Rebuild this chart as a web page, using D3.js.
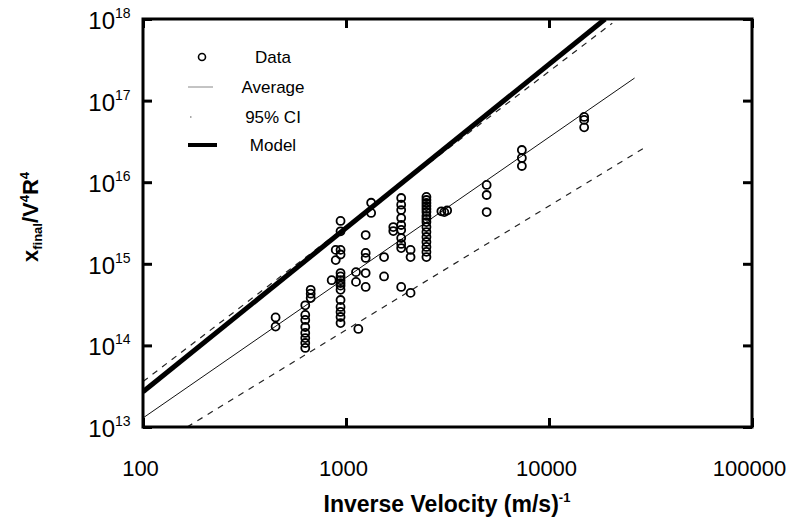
<!DOCTYPE html>
<html>
<head>
<meta charset="utf-8">
<script src="https://cdn.jsdelivr.net/npm/d3@7"></script>
<style>
  body { margin: 0; background: #fff; }
  svg { font-family: "Liberation Sans", Arial, sans-serif; }
</style>
</head>
<body>
<div id="grafico"></div>
<script>
// ejes
const xTicks = [100, 1000, 10000, 100000];
const yTicks = [1e13, 1e14, 1e15, 1e16, 1e17, 1e18];
const yExponents = ["13", "14", "15", "16", "17", "18"];

// puntos medidos [velocidad inversa, x_final/V^4R^4]
const dataPoints = [
    [450, 2.2e14], [450, 1.7e14],
    [630, 3.1e14], [630, 2.36e14], [630, 2.05e14], [630, 1.68e14], [630, 1.42e14], [630, 1.23e14], [630, 1.07e14], [630, 9.3e13],
    [670, 4.8e14], [670, 4.3e14], [670, 3.8e14],
    [850, 6.3e14],
    [890, 1.48e15], [890, 1.11e15],
    [940, 3.35e15], [940, 2.5e15], [940, 1.48e15], [940, 1.3e15], [940, 7.7e14], [940, 7.0e14], [940, 6.3e14], [940, 5.8e14],
    [940, 5.4e14], [940, 4.8e14], [940, 3.6e14], [940, 2.96e14], [940, 2.57e14], [940, 2.23e14], [940, 1.88e14],
    [1120, 7.9e14], [1120, 6.0e14], [1150, 1.59e14],
    [1250, 2.25e15], [1250, 1.36e15], [1250, 1.18e15], [1250, 7.7e14], [1250, 5.2e14],
    [1330, 5.6e15], [1330, 4.2e15],
    [1540, 1.21e15], [1540, 7.0e14],
    [1710, 2.82e15], [1710, 2.52e15],
    [1870, 6.4e15], [1870, 5.3e15], [1870, 4.56e15], [1870, 3.64e15], [1870, 2.99e15], [1870, 2.6e15], [1870, 2.07e15], [1870, 1.75e15], [1870, 1.56e15], [1870, 5.2e14],
    [2080, 1.48e15], [2080, 1.21e15], [2080, 4.4e14],
    [2490, 6.6e15], [2490, 6.05e15], [2490, 5.56e15], [2490, 5.1e15], [2490, 4.7e15], [2490, 4.31e15], [2490, 3.86e15], [2490, 3.54e15],
    [2490, 3.25e15], [2490, 2.82e15], [2490, 2.45e15], [2490, 2.13e15], [2490, 1.85e15], [2490, 1.61e15], [2490, 1.4e15], [2490, 1.21e15],
    [2950, 4.4e15], [3050, 4.3e15], [3150, 4.5e15],
    [4930, 9.25e15], [4930, 6.97e15], [4930, 4.31e15],
    [7350, 2.48e16], [7350, 1.98e16], [7350, 1.58e16],
    [14900, 6.3e16], [14900, 5.8e16], [14900, 4.7e16]
];

// rectas (extremos)
const averageLine = [[100, 1.29e13], [26400, 1.89e17]];
const upperCI = [[100, 3.6e13], [20500, 8.9e17]];
const lowerCI = [[165, 1e13], [29900, 2.7e16]];
const modelLine = [[100, 2.7e13], [18900, 1e18]];

const legendLabels = ["Data", "Average", "95% CI", "Model"];

const svgWidth = 793, svgHeight = 527;
const margin = { top: 19, right: 41, bottom: 100, left: 143 };
const width = svgWidth - margin.left - margin.right;
const height = svgHeight - margin.top - margin.bottom;

const svg = d3.select("#grafico")
    .append("svg")
    .attr("width", svgWidth)
    .attr("height", svgHeight);

const g = svg.append("g")
    .attr("transform", `translate(${margin.left}, ${margin.top})`);

const x = d3.scaleLog().domain([100, 100000]).range([0, width]);
const y = d3.scaleLog().domain([1e13, 1e18]).range([height, 0]);

g.append("clipPath").attr("id", "clip")
    .append("rect").attr("width", width).attr("height", height);

const line = d3.line().x(d => x(d[0])).y(d => y(d[1]));
const lines = g.append("g").attr("clip-path", "url(#clip)");

// CI
[upperCI, lowerCI].forEach(l => {
    lines.append("path").datum(l)
        .attr("d", line).attr("fill", "none")
        .attr("stroke", "#222").attr("stroke-width", 1.2)
        .attr("stroke-dasharray", "6,6");
});

// promedio
lines.append("path").datum(averageLine)
    .attr("d", line).attr("fill", "none")
    .attr("stroke", "#111").attr("stroke-width", 1);

// modelo
lines.append("path").datum(modelLine)
    .attr("d", line).attr("fill", "none")
    .attr("stroke", "#000").attr("stroke-width", 5);

// puntos
g.append("g").selectAll("circle")
    .data(dataPoints)
    .enter()
    .append("circle")
    .attr("cx", d => x(d[0]))
    .attr("cy", d => y(d[1]))
    .attr("r", 4)
    .attr("fill", "none")
    .attr("stroke", "#000")
    .attr("stroke-width", 1.8);

// ticks hacia dentro en los cuatro lados
const tickLen = 9;
g.append("g").attr("transform", `translate(0, ${height})`)
    .call(d3.axisBottom(x).tickValues(xTicks).tickSizeInner(-tickLen).tickSizeOuter(0).tickPadding(33).tickFormat(d3.format("d")))
    .call(a => a.select(".domain").remove())
    .call(a => a.selectAll("line").attr("stroke-width", 3))
    .call(a => a.selectAll("text").attr("font-size", 22).attr("font-family", "Liberation Sans, Arial, sans-serif").attr("fill", "#000").attr("dx", -3));

g.append("g")
    .call(d3.axisTop(x).tickValues(xTicks).tickSizeInner(-tickLen).tickSizeOuter(0).tickFormat(""))
    .call(a => a.select(".domain").remove())
    .call(a => a.selectAll("line").attr("stroke-width", 3));

g.append("g")
    .call(d3.axisLeft(y).tickValues(yTicks).tickSizeInner(-tickLen).tickSizeOuter(0).tickFormat(""))
    .call(a => a.select(".domain").remove())
    .call(a => a.selectAll("line").attr("stroke-width", 3));

g.append("g").attr("transform", `translate(${width}, 0)`)
    .call(d3.axisRight(y).tickValues(yTicks).tickSizeInner(-tickLen).tickSizeOuter(0).tickFormat(""))
    .call(a => a.select(".domain").remove())
    .call(a => a.selectAll("line").attr("stroke-width", 3));

// marco
g.append("rect")
    .attr("width", width).attr("height", height)
    .attr("fill", "none").attr("stroke", "#000").attr("stroke-width", 3);

// etiquetas y con exponente
const yLab = g.append("g");
yTicks.forEach((t, i) => {
    yLab.append("text")
        .attr("x", -28).attr("y", y(t) + 10)
        .attr("text-anchor", "end").attr("font-size", 24)
        .text("10");
    yLab.append("text")
        .attr("x", -28).attr("y", y(t) - 1)
        .attr("text-anchor", "start").attr("font-size", 14)
        .text(yExponents[i]);
});

// titulo eje x
const xt = svg.append("text")
    .attr("x", 447).attr("y", 512)
    .attr("text-anchor", "middle")
    .attr("font-size", 23).attr("font-weight", "bold");
xt.append("tspan").text("Inverse Velocity (m/s)");
xt.append("tspan").attr("font-size", 13).attr("dy", -10).text("-1");

// titulo eje y
const yt = svg.append("text")
    .attr("transform", "translate(38, 217) rotate(-90)")
    .attr("text-anchor", "middle")
    .attr("font-size", 22).attr("font-weight", "bold");
yt.append("tspan").text("x");
yt.append("tspan").attr("font-size", 13).attr("dy", 4).text("final");
yt.append("tspan").attr("dy", -4).text("/V");
yt.append("tspan").attr("font-size", 13).attr("dy", -9).text("4");
yt.append("tspan").attr("dy", 9).text("R");
yt.append("tspan").attr("font-size", 13).attr("dy", -9).text("4");

// leyenda
const legend = svg.append("g");
const legY = [57, 87, 117, 145];
legend.append("circle").attr("cx", 202).attr("cy", legY[0]).attr("r", 3.5)
    .attr("fill", "none").attr("stroke", "#000").attr("stroke-width", 1.6);
legend.append("line").attr("x1", 188).attr("x2", 213).attr("y1", legY[1]).attr("y2", legY[1])
    .attr("stroke", "#888").attr("stroke-width", 1);
legend.append("line").attr("x1", 188).attr("x2", 213).attr("y1", legY[2]).attr("y2", legY[2])
    .attr("stroke", "#555").attr("stroke-width", 1.2).attr("stroke-dasharray", "1.5,30").attr("stroke-dashoffset", -2);
legend.append("line").attr("x1", 188).attr("x2", 217).attr("y1", legY[3]).attr("y2", legY[3])
    .attr("stroke", "#000").attr("stroke-width", 4);

legend.selectAll("text.leg")
    .data(legendLabels)
    .enter()
    .append("text")
    .attr("class", "leg")
    .attr("x", 273)
    .attr("y", (d, i) => legY[i] + 6)
    .attr("text-anchor", "middle")
    .attr("font-size", 17)
    .text(d => d);
</script>
</body>
</html>
